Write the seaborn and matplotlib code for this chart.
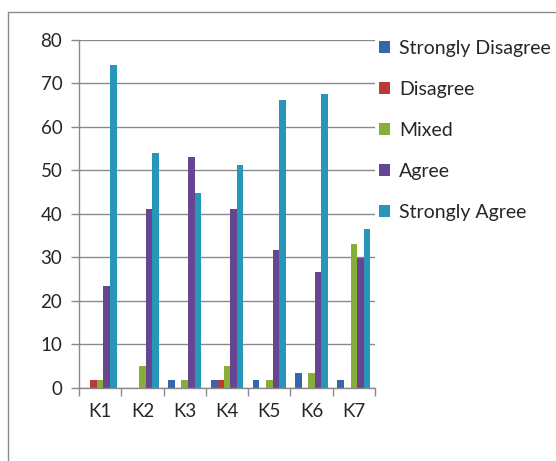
import matplotlib
matplotlib.use("Agg")
import matplotlib.pyplot as plt
from matplotlib.ticker import MultipleLocator, FixedLocator
import seaborn as sns
import pandas as pd

categories = ["K1", "K2", "K3", "K4", "K5", "K6", "K7"]
responses = ["Strongly Disagree", "Disagree", "Mixed", "Agree", "Strongly Agree"]

strongly_disagree = [0, 0, 1.7, 1.7, 1.7, 3.4, 1.7]
disagree = [1.7, 0, 0, 1.7, 0, 0, 0]
mixed = [1.7, 5.1, 1.7, 5.1, 1.7, 3.4, 33.0]
agree = [23.4, 41.1, 53.0, 41.1, 31.7, 26.7, 29.9]
strongly_agree = [74.2, 54.1, 44.8, 51.2, 66.1, 67.5, 36.5]

colors = ["#3567AE", "#B93B38", "#86AE38", "#664690", "#2896B9"]

series = [strongly_disagree, disagree, mixed, agree, strongly_agree]
rows = []
for resp, vals in zip(responses, series):
    for cat, v in zip(categories, vals):
        rows.append({"item": cat, "response": resp, "pct": v})
df = pd.DataFrame(rows)

sns.set_style("white")
plt.rcParams["font.family"] = ["Lato", "DejaVu Sans"]

fig = plt.figure(figsize=(5.56, 4.61), dpi=100)
ax = fig.add_axes([79 / 556, 1 - 387.7 / 461, 296 / 556, 347.7 / 461])

sns.barplot(data=df, x="item", y="pct", hue="response", order=categories,
            hue_order=responses, palette=colors, width=0.78, saturation=1,
            edgecolor="none", linewidth=0, ax=ax, legend=True)

ax.set_ylim(0, 80)
ax.set_xlim(-0.5, 6.5)
ax.yaxis.set_major_locator(MultipleLocator(10))
ax.set_axisbelow(True)
ax.grid(axis="y", color="#8a8a8a", linewidth=1)
ax.set_xlabel("")
ax.set_ylabel("")

ax.xaxis.set_minor_locator(FixedLocator([i - 0.5 for i in range(8)]))
ax.tick_params(axis="x", which="major", length=0, pad=11, labelsize=13.5)
ax.tick_params(axis="x", which="minor", length=6, width=1, color="#8a8a8a",
               direction="out", bottom=True)
ax.tick_params(axis="y", length=6, width=1, color="#8a8a8a", direction="out",
               left=True, labelsize=13.5, pad=6)

for s in ["top", "right"]:
    ax.spines[s].set_visible(False)
for s in ["left", "bottom"]:
    ax.spines[s].set_color("#8a8a8a")
    ax.spines[s].set_linewidth(1)

handles, labels = ax.get_legend_handles_labels()
ax.get_legend().remove()
fig.legend(handles, labels, loc="upper left",
           bbox_to_anchor=(379 / 556, 1 - 40 / 461), frameon=False,
           fontsize=14, handlelength=0.55, handleheight=0.55,
           handletextpad=0.5, labelspacing=1.23, borderpad=0,
           borderaxespad=0)

# chart frame (left and top edges)
fig.add_artist(plt.Line2D([8 / 556, 8 / 556], [0, 1 - 12 / 461],
                          transform=fig.transFigure, color="#8a8a8a", lw=1))
fig.add_artist(plt.Line2D([8 / 556, 1], [1 - 12 / 461, 1 - 12 / 461],
                          transform=fig.transFigure, color="#8a8a8a", lw=1))

fig.savefig("out.png", dpi=100)
